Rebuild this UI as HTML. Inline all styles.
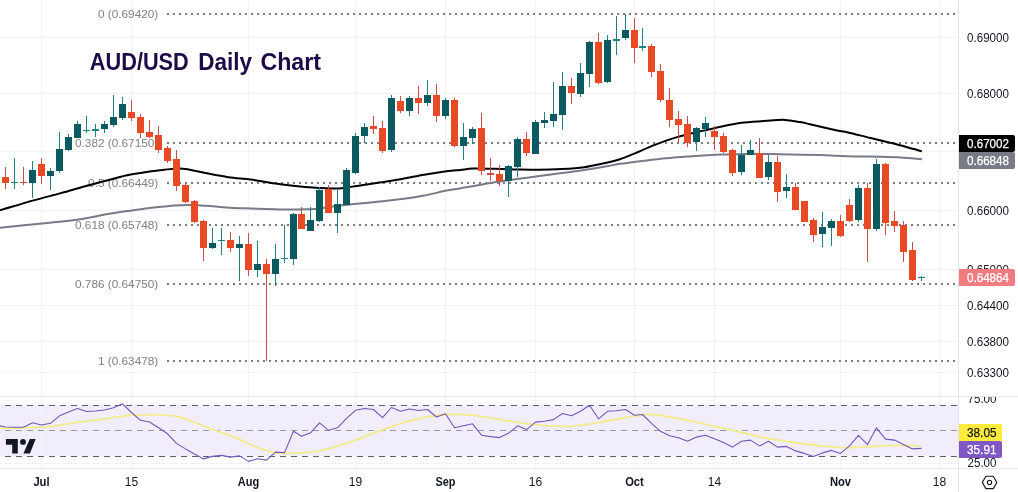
<!DOCTYPE html><html><head><meta charset="utf-8"><title>AUD/USD Daily Chart</title>
<style>html,body{margin:0;padding:0;background:#fff}body{width:1018px;height:492px;overflow:hidden}svg{display:block}text{font-family:"Liberation Sans",sans-serif}</style></head><body>
<svg width="1018" height="492" viewBox="0 0 1018 492">
<rect width="1018" height="492" fill="#fff"/>
<rect x="0" y="405" width="958" height="51" fill="#f1edfa"/>
<g shape-rendering="crispEdges" fill="#f1f2f5">
<rect x="41" y="0" width="1" height="468"/>
<rect x="131" y="0" width="1" height="468"/>
<rect x="248" y="0" width="1" height="468"/>
<rect x="355" y="0" width="1" height="468"/>
<rect x="445" y="0" width="1" height="468"/>
<rect x="535" y="0" width="1" height="468"/>
<rect x="634" y="0" width="1" height="468"/>
<rect x="714" y="0" width="1" height="468"/>
<rect x="840" y="0" width="1" height="468"/>
<rect x="939" y="0" width="1" height="468"/>
<rect x="0" y="37" width="958" height="1"/>
<rect x="0" y="93" width="958" height="1"/>
<rect x="0" y="151" width="958" height="1"/>
<rect x="0" y="210" width="958" height="1"/>
<rect x="0" y="269" width="958" height="1"/>
<rect x="0" y="305" width="958" height="1"/>
<rect x="0" y="341" width="958" height="1"/>
<rect x="0" y="372" width="958" height="1"/>
<rect x="0" y="463" width="958" height="1"/>
</g>
<g shape-rendering="crispEdges" fill="#e4e6ec">
<rect x="0" y="396" width="1018" height="1"/>
<rect x="0" y="468" width="1018" height="1"/>
<rect x="958" y="0" width="1" height="492"/>
</g>
<g font-size="11.8" fill="#808080" text-anchor="end">
<text x="158.3" y="18.3">0 (0.69420)</text>
<text x="158.3" y="147.3">0.382 (0.67150)</text>
<text x="158.3" y="187.3">0.5 (0.66449)</text>
<text x="158.3" y="229.3">0.618 (0.65748)</text>
<text x="158.3" y="288.3">0.786 (0.64750)</text>
<text x="158.3" y="365.3">1 (0.63478)</text>
</g>
<g stroke="#7c7c7c" stroke-width="2" stroke-dasharray="2 4" shape-rendering="crispEdges">
<line x1="167" y1="14" x2="957" y2="14"/>
<line x1="167" y1="143" x2="957" y2="143"/>
<line x1="167" y1="183" x2="957" y2="183"/>
<line x1="167" y1="225" x2="957" y2="225"/>
<line x1="167" y1="284" x2="957" y2="284"/>
<line x1="167" y1="361" x2="957" y2="361"/>
</g>
<path d="M0.0,227.7 C7.5,226.9 31.0,224.6 44.7,223.2 C58.4,221.8 72.4,220.4 82.4,219.0 C92.4,217.6 97.2,215.9 104.7,214.6 C112.2,213.3 119.6,212.2 127.1,211.1 C134.6,210.0 142.0,208.9 149.5,208.0 C157.0,207.1 165.2,206.2 171.9,205.7 C178.6,205.2 183.1,204.8 189.8,204.9 C196.5,205.0 205.4,205.7 212.1,206.2 C218.8,206.7 223.6,207.3 230.0,207.7 C236.4,208.1 241.7,208.2 250.7,208.5 C259.7,208.8 274.9,209.4 284.2,209.5 C293.5,209.6 300.6,209.4 306.6,209.2 C312.6,209.0 315.3,208.9 320.0,208.4 C324.7,207.9 328.5,207.0 334.7,206.2 C340.9,205.4 349.5,204.6 357.0,203.8 C364.5,203.0 372.0,202.3 379.5,201.5 C387.0,200.7 394.4,200.1 401.9,199.1 C409.3,198.1 416.8,196.9 424.2,195.5 C431.6,194.1 440.6,191.8 446.6,190.6 C452.6,189.4 455.7,189.1 460.0,188.4 C464.3,187.7 466.6,187.2 472.4,186.2 C478.2,185.2 487.2,183.5 494.7,182.3 C502.1,181.1 509.6,180.2 517.1,179.1 C524.6,178.0 532.0,177.0 539.5,176.0 C547.0,175.0 554.4,174.1 561.9,173.1 C569.4,172.1 576.8,171.2 584.2,170.1 C591.7,169.0 600.6,167.4 606.6,166.3 C612.6,165.2 615.7,164.5 620.0,163.8 C624.3,163.1 626.6,163.0 632.4,162.3 C638.2,161.6 647.2,160.3 654.7,159.5 C662.2,158.7 669.6,157.8 677.1,157.2 C684.6,156.6 692.0,156.1 699.5,155.7 C707.0,155.3 714.4,154.9 721.9,154.6 C729.4,154.3 736.8,154.0 744.2,153.9 C751.7,153.8 760.6,153.9 766.6,153.9 C772.6,153.9 771.2,154.0 780.0,154.2 C788.8,154.4 808.2,154.8 819.5,155.1 C830.8,155.4 837.7,156.0 848.0,156.3 C858.3,156.6 872.2,156.5 881.5,156.7 C890.8,156.9 897.3,157.3 904.0,157.7 C910.7,158.1 918.8,158.9 921.8,159.2" fill="none" stroke="#787b86" stroke-width="2" stroke-linejoin="round"/>
<path d="M0.0,210.3 C5.6,208.7 23.5,203.2 33.5,200.4 C43.5,197.6 51.9,195.6 60.0,193.4 C68.2,191.2 75.0,189.1 82.4,187.0 C89.9,184.9 97.2,182.9 104.7,181.0 C112.2,179.1 119.6,176.9 127.1,175.3 C134.6,173.7 142.0,172.7 149.5,171.6 C157.0,170.5 165.9,169.4 171.9,169.0 C177.9,168.6 179.7,168.2 185.3,168.9 C190.9,169.6 198.2,171.6 205.4,173.0 C212.6,174.4 220.8,176.1 228.3,177.2 C235.9,178.3 243.2,178.6 250.7,179.6 C258.1,180.6 265.6,182.2 273.0,183.3 C280.4,184.4 288.8,185.3 295.4,186.0 C302.0,186.7 305.8,187.1 312.4,187.5 C318.9,187.9 329.1,188.5 334.7,188.5 C340.3,188.5 342.3,188.0 346.0,187.6 C349.7,187.2 351.4,186.8 357.0,185.9 C362.6,185.1 372.0,183.7 379.5,182.5 C387.0,181.3 394.4,180.2 401.9,178.9 C409.3,177.6 416.8,176.0 424.2,174.7 C431.6,173.4 440.4,172.1 446.4,171.3 C452.4,170.5 455.6,170.4 460.0,170.0 C464.4,169.6 467.2,168.8 473.0,168.6 C478.8,168.4 487.3,168.7 494.7,168.8 C502.1,168.9 509.6,169.2 517.1,169.4 C524.6,169.6 532.0,169.9 539.5,169.8 C547.0,169.7 554.4,169.4 561.9,169.0 C569.4,168.6 576.8,168.2 584.2,167.2 C591.7,166.1 600.6,164.0 606.6,162.7 C612.6,161.4 615.7,160.6 620.0,159.2 C624.3,157.8 626.6,156.8 632.4,154.4 C638.2,152.0 647.2,147.8 654.7,144.9 C662.2,142.0 669.6,139.3 677.1,137.1 C684.6,134.9 692.0,133.3 699.5,131.5 C707.0,129.7 714.4,127.9 721.9,126.4 C729.4,124.9 736.8,123.5 744.2,122.6 C751.7,121.7 759.8,121.2 766.6,120.8 C773.4,120.3 779.4,119.7 785.0,119.9 C790.6,120.1 795.8,121.4 800.0,122.1 C804.2,122.8 804.2,122.9 810.0,124.2 C815.8,125.5 828.7,128.6 835.0,130.0 C841.3,131.4 842.1,131.1 848.0,132.4 C853.9,133.7 862.9,136.2 870.4,138.0 C877.9,139.8 885.3,141.4 892.7,143.3 C900.1,145.2 910.1,148.0 915.0,149.3 C919.9,150.7 920.7,151.1 921.8,151.4" fill="none" stroke="#000" stroke-width="2" stroke-linejoin="round"/>
<g shape-rendering="crispEdges">
<rect x="5" y="167" width="1" height="22" fill="#cc4a4a"/>
<rect x="2" y="177" width="7" height="6" fill="#e84a25"/>
<rect x="14" y="158" width="1" height="31" fill="#1e8286"/>
<rect x="11" y="182" width="7" height="1" fill="#1e8286"/>
<rect x="23" y="167" width="1" height="18" fill="#cc4a4a"/>
<rect x="20" y="182" width="7" height="1" fill="#cc4a4a"/>
<rect x="32" y="161" width="1" height="37" fill="#1e8286"/>
<rect x="29" y="170" width="7" height="13" fill="#0b5a5f"/>
<rect x="41" y="158" width="1" height="26" fill="#cc4a4a"/>
<rect x="38" y="164" width="7" height="12" fill="#e84a25"/>
<rect x="50" y="168" width="1" height="22" fill="#1e8286"/>
<rect x="47" y="171" width="7" height="5" fill="#0b5a5f"/>
<rect x="59" y="132" width="1" height="41" fill="#1e8286"/>
<rect x="56" y="149" width="7" height="22" fill="#0b5a5f"/>
<rect x="68" y="134" width="1" height="17" fill="#1e8286"/>
<rect x="65" y="137" width="7" height="13" fill="#0b5a5f"/>
<rect x="77" y="121" width="1" height="17" fill="#1e8286"/>
<rect x="74" y="124" width="7" height="14" fill="#0b5a5f"/>
<rect x="86" y="116" width="1" height="17" fill="#1e8286"/>
<rect x="83" y="130" width="7" height="1" fill="#1e8286"/>
<rect x="95" y="124" width="1" height="13" fill="#1e8286"/>
<rect x="92" y="129" width="7" height="2" fill="#1e8286"/>
<rect x="104" y="121" width="1" height="12" fill="#1e8286"/>
<rect x="101" y="124" width="7" height="5" fill="#0b5a5f"/>
<rect x="113" y="95" width="1" height="32" fill="#1e8286"/>
<rect x="110" y="117" width="7" height="8" fill="#0b5a5f"/>
<rect x="122" y="97" width="1" height="23" fill="#1e8286"/>
<rect x="119" y="104" width="7" height="14" fill="#0b5a5f"/>
<rect x="131" y="100" width="1" height="21" fill="#cc4a4a"/>
<rect x="128" y="112" width="7" height="6" fill="#e84a25"/>
<rect x="140" y="114" width="1" height="24" fill="#cc4a4a"/>
<rect x="137" y="117" width="7" height="16" fill="#e84a25"/>
<rect x="149" y="120" width="1" height="18" fill="#cc4a4a"/>
<rect x="146" y="132" width="7" height="5" fill="#e84a25"/>
<rect x="158" y="126" width="1" height="27" fill="#cc4a4a"/>
<rect x="155" y="135" width="7" height="15" fill="#e84a25"/>
<rect x="167" y="146" width="1" height="17" fill="#cc4a4a"/>
<rect x="164" y="148" width="7" height="13" fill="#e84a25"/>
<rect x="176" y="150" width="1" height="41" fill="#cc4a4a"/>
<rect x="173" y="159" width="7" height="27" fill="#e84a25"/>
<rect x="185" y="183" width="1" height="20" fill="#cc4a4a"/>
<rect x="182" y="185" width="7" height="17" fill="#e84a25"/>
<rect x="194" y="200" width="1" height="23" fill="#cc4a4a"/>
<rect x="191" y="201" width="7" height="21" fill="#e84a25"/>
<rect x="203" y="220" width="1" height="41" fill="#cc4a4a"/>
<rect x="200" y="221" width="7" height="27" fill="#e84a25"/>
<rect x="212" y="228" width="1" height="21" fill="#1e8286"/>
<rect x="209" y="243" width="7" height="5" fill="#0b5a5f"/>
<rect x="221" y="228" width="1" height="27" fill="#1e8286"/>
<rect x="218" y="240" width="7" height="1" fill="#1e8286"/>
<rect x="230" y="232" width="1" height="20" fill="#cc4a4a"/>
<rect x="227" y="240" width="7" height="8" fill="#e84a25"/>
<rect x="239" y="236" width="1" height="45" fill="#1e8286"/>
<rect x="236" y="244" width="7" height="4" fill="#0b5a5f"/>
<rect x="248" y="233" width="1" height="43" fill="#cc4a4a"/>
<rect x="245" y="244" width="7" height="26" fill="#e84a25"/>
<rect x="257" y="241" width="1" height="36" fill="#1e8286"/>
<rect x="254" y="264" width="7" height="6" fill="#0b5a5f"/>
<rect x="266" y="259" width="1" height="102" fill="#cc4a4a"/>
<rect x="263" y="264" width="7" height="10" fill="#e84a25"/>
<rect x="275" y="244" width="1" height="42" fill="#1e8286"/>
<rect x="272" y="259" width="7" height="15" fill="#0b5a5f"/>
<rect x="284" y="225" width="1" height="38" fill="#1e8286"/>
<rect x="281" y="258" width="7" height="1" fill="#1e8286"/>
<rect x="293" y="213" width="1" height="52" fill="#1e8286"/>
<rect x="290" y="214" width="7" height="45" fill="#0b5a5f"/>
<rect x="301" y="207" width="1" height="22" fill="#cc4a4a"/>
<rect x="298" y="214" width="7" height="15" fill="#e84a25"/>
<rect x="310" y="207" width="1" height="24" fill="#1e8286"/>
<rect x="307" y="220" width="7" height="11" fill="#0b5a5f"/>
<rect x="319" y="187" width="1" height="35" fill="#1e8286"/>
<rect x="316" y="190" width="7" height="31" fill="#0b5a5f"/>
<rect x="328" y="185" width="1" height="28" fill="#cc4a4a"/>
<rect x="325" y="189" width="7" height="24" fill="#e84a25"/>
<rect x="337" y="190" width="1" height="43" fill="#1e8286"/>
<rect x="334" y="204" width="7" height="9" fill="#0b5a5f"/>
<rect x="346" y="168" width="1" height="37" fill="#1e8286"/>
<rect x="343" y="170" width="7" height="35" fill="#0b5a5f"/>
<rect x="355" y="133" width="1" height="41" fill="#1e8286"/>
<rect x="352" y="136" width="7" height="37" fill="#0b5a5f"/>
<rect x="364" y="123" width="1" height="20" fill="#1e8286"/>
<rect x="361" y="127" width="7" height="9" fill="#0b5a5f"/>
<rect x="373" y="116" width="1" height="18" fill="#cc4a4a"/>
<rect x="370" y="126" width="7" height="3" fill="#e84a25"/>
<rect x="382" y="121" width="1" height="32" fill="#cc4a4a"/>
<rect x="379" y="128" width="7" height="23" fill="#e84a25"/>
<rect x="391" y="95" width="1" height="57" fill="#1e8286"/>
<rect x="388" y="98" width="7" height="52" fill="#0b5a5f"/>
<rect x="400" y="96" width="1" height="17" fill="#cc4a4a"/>
<rect x="397" y="101" width="7" height="10" fill="#e84a25"/>
<rect x="409" y="96" width="1" height="20" fill="#1e8286"/>
<rect x="406" y="98" width="7" height="13" fill="#0b5a5f"/>
<rect x="418" y="86" width="1" height="28" fill="#cc4a4a"/>
<rect x="415" y="98" width="7" height="5" fill="#e84a25"/>
<rect x="427" y="80" width="1" height="26" fill="#1e8286"/>
<rect x="424" y="95" width="7" height="8" fill="#0b5a5f"/>
<rect x="436" y="84" width="1" height="38" fill="#cc4a4a"/>
<rect x="433" y="95" width="7" height="21" fill="#e84a25"/>
<rect x="445" y="98" width="1" height="21" fill="#1e8286"/>
<rect x="442" y="100" width="7" height="16" fill="#0b5a5f"/>
<rect x="454" y="98" width="1" height="49" fill="#cc4a4a"/>
<rect x="451" y="100" width="7" height="46" fill="#e84a25"/>
<rect x="463" y="123" width="1" height="37" fill="#1e8286"/>
<rect x="460" y="137" width="7" height="9" fill="#0b5a5f"/>
<rect x="472" y="127" width="1" height="17" fill="#1e8286"/>
<rect x="469" y="129" width="7" height="9" fill="#0b5a5f"/>
<rect x="481" y="113" width="1" height="62" fill="#cc4a4a"/>
<rect x="478" y="128" width="7" height="43" fill="#e84a25"/>
<rect x="490" y="158" width="1" height="23" fill="#cc4a4a"/>
<rect x="487" y="173" width="7" height="2" fill="#cc4a4a"/>
<rect x="499" y="165" width="1" height="21" fill="#cc4a4a"/>
<rect x="496" y="174" width="7" height="7" fill="#e84a25"/>
<rect x="508" y="165" width="1" height="32" fill="#1e8286"/>
<rect x="505" y="166" width="7" height="15" fill="#0b5a5f"/>
<rect x="517" y="137" width="1" height="40" fill="#1e8286"/>
<rect x="514" y="139" width="7" height="28" fill="#0b5a5f"/>
<rect x="526" y="132" width="1" height="24" fill="#cc4a4a"/>
<rect x="523" y="139" width="7" height="14" fill="#e84a25"/>
<rect x="535" y="120" width="1" height="34" fill="#1e8286"/>
<rect x="532" y="122" width="7" height="32" fill="#0b5a5f"/>
<rect x="544" y="112" width="1" height="16" fill="#1e8286"/>
<rect x="541" y="120" width="7" height="3" fill="#0b5a5f"/>
<rect x="553" y="82" width="1" height="45" fill="#1e8286"/>
<rect x="550" y="114" width="7" height="7" fill="#0b5a5f"/>
<rect x="562" y="72" width="1" height="58" fill="#1e8286"/>
<rect x="559" y="86" width="7" height="29" fill="#0b5a5f"/>
<rect x="571" y="78" width="1" height="26" fill="#cc4a4a"/>
<rect x="568" y="86" width="7" height="7" fill="#e84a25"/>
<rect x="580" y="63" width="1" height="34" fill="#1e8286"/>
<rect x="577" y="73" width="7" height="21" fill="#0b5a5f"/>
<rect x="589" y="41" width="1" height="46" fill="#1e8286"/>
<rect x="586" y="42" width="7" height="32" fill="#0b5a5f"/>
<rect x="598" y="33" width="1" height="51" fill="#cc4a4a"/>
<rect x="595" y="42" width="7" height="41" fill="#e84a25"/>
<rect x="607" y="35" width="1" height="48" fill="#1e8286"/>
<rect x="604" y="40" width="7" height="42" fill="#0b5a5f"/>
<rect x="616" y="16" width="1" height="39" fill="#1e8286"/>
<rect x="613" y="39" width="7" height="2" fill="#1e8286"/>
<rect x="625" y="14" width="1" height="26" fill="#1e8286"/>
<rect x="622" y="30" width="7" height="8" fill="#0b5a5f"/>
<rect x="634" y="18" width="1" height="45" fill="#cc4a4a"/>
<rect x="631" y="30" width="7" height="18" fill="#e84a25"/>
<rect x="642" y="28" width="1" height="23" fill="#1e8286"/>
<rect x="639" y="46" width="7" height="2" fill="#1e8286"/>
<rect x="651" y="44" width="1" height="33" fill="#cc4a4a"/>
<rect x="648" y="46" width="7" height="26" fill="#e84a25"/>
<rect x="660" y="64" width="1" height="38" fill="#cc4a4a"/>
<rect x="657" y="71" width="7" height="29" fill="#e84a25"/>
<rect x="669" y="88" width="1" height="39" fill="#cc4a4a"/>
<rect x="666" y="100" width="7" height="20" fill="#e84a25"/>
<rect x="678" y="111" width="1" height="32" fill="#cc4a4a"/>
<rect x="675" y="119" width="7" height="6" fill="#e84a25"/>
<rect x="687" y="116" width="1" height="31" fill="#cc4a4a"/>
<rect x="684" y="124" width="7" height="19" fill="#e84a25"/>
<rect x="696" y="127" width="1" height="24" fill="#1e8286"/>
<rect x="693" y="128" width="7" height="14" fill="#0b5a5f"/>
<rect x="705" y="117" width="1" height="20" fill="#1e8286"/>
<rect x="702" y="123" width="7" height="6" fill="#0b5a5f"/>
<rect x="714" y="126" width="1" height="24" fill="#cc4a4a"/>
<rect x="711" y="131" width="7" height="6" fill="#e84a25"/>
<rect x="723" y="133" width="1" height="20" fill="#cc4a4a"/>
<rect x="720" y="136" width="7" height="16" fill="#e84a25"/>
<rect x="732" y="149" width="1" height="27" fill="#cc4a4a"/>
<rect x="729" y="150" width="7" height="23" fill="#e84a25"/>
<rect x="741" y="145" width="1" height="30" fill="#1e8286"/>
<rect x="738" y="155" width="7" height="17" fill="#0b5a5f"/>
<rect x="750" y="140" width="1" height="15" fill="#1e8286"/>
<rect x="747" y="150" width="7" height="5" fill="#0b5a5f"/>
<rect x="759" y="138" width="1" height="40" fill="#cc4a4a"/>
<rect x="756" y="153" width="7" height="25" fill="#e84a25"/>
<rect x="768" y="155" width="1" height="25" fill="#1e8286"/>
<rect x="765" y="162" width="7" height="15" fill="#0b5a5f"/>
<rect x="777" y="156" width="1" height="46" fill="#cc4a4a"/>
<rect x="774" y="162" width="7" height="30" fill="#e84a25"/>
<rect x="786" y="174" width="1" height="24" fill="#1e8286"/>
<rect x="783" y="187" width="7" height="4" fill="#0b5a5f"/>
<rect x="795" y="183" width="1" height="27" fill="#cc4a4a"/>
<rect x="792" y="187" width="7" height="23" fill="#e84a25"/>
<rect x="804" y="201" width="1" height="21" fill="#cc4a4a"/>
<rect x="801" y="201" width="7" height="21" fill="#e84a25"/>
<rect x="813" y="218" width="1" height="24" fill="#cc4a4a"/>
<rect x="810" y="220" width="7" height="15" fill="#e84a25"/>
<rect x="822" y="212" width="1" height="35" fill="#1e8286"/>
<rect x="819" y="227" width="7" height="7" fill="#0b5a5f"/>
<rect x="831" y="219" width="1" height="27" fill="#1e8286"/>
<rect x="828" y="221" width="7" height="7" fill="#0b5a5f"/>
<rect x="840" y="215" width="1" height="22" fill="#cc4a4a"/>
<rect x="837" y="221" width="7" height="15" fill="#e84a25"/>
<rect x="849" y="199" width="1" height="23" fill="#cc4a4a"/>
<rect x="846" y="205" width="7" height="16" fill="#e84a25"/>
<rect x="858" y="185" width="1" height="37" fill="#1e8286"/>
<rect x="855" y="188" width="7" height="32" fill="#0b5a5f"/>
<rect x="867" y="183" width="1" height="79" fill="#cc4a4a"/>
<rect x="864" y="188" width="7" height="41" fill="#e84a25"/>
<rect x="876" y="159" width="1" height="72" fill="#1e8286"/>
<rect x="873" y="164" width="7" height="65" fill="#0b5a5f"/>
<rect x="885" y="163" width="1" height="72" fill="#cc4a4a"/>
<rect x="882" y="164" width="7" height="59" fill="#e84a25"/>
<rect x="894" y="211" width="1" height="21" fill="#cc4a4a"/>
<rect x="891" y="221" width="7" height="5" fill="#e84a25"/>
<rect x="903" y="221" width="1" height="41" fill="#cc4a4a"/>
<rect x="900" y="225" width="7" height="27" fill="#e84a25"/>
<rect x="912" y="242" width="1" height="39" fill="#cc4a4a"/>
<rect x="909" y="250" width="7" height="30" fill="#e84a25"/>
<rect x="921" y="276" width="1" height="5" fill="#1e8286"/>
<rect x="918" y="277" width="7" height="1" fill="#1e8286"/>
</g>
<text y="69.5" font-size="23.4" font-weight="bold" fill="#1d0a46"><tspan x="89.8" textLength="99" lengthAdjust="spacingAndGlyphs">AUD/USD</tspan> <tspan x="198.2" textLength="53.8" lengthAdjust="spacingAndGlyphs">Daily</tspan> <tspan x="260.4" textLength="60.6" lengthAdjust="spacingAndGlyphs">Chart</tspan></text>
<g shape-rendering="crispEdges" stroke-width="1">
<line x1="5" y1="405.5" x2="958" y2="405.5" stroke="#5d606b" stroke-dasharray="6 5"/>
<line x1="5" y1="430.5" x2="958" y2="430.5" stroke="#9598a1" stroke-dasharray="6 5"/>
<line x1="5" y1="456.5" x2="958" y2="456.5" stroke="#5d606b" stroke-dasharray="6 5"/>
</g>
<path d="M0.0,428.3 C4.2,428.2 16.7,428.1 25.0,427.8 C33.3,427.5 41.7,427.5 50.0,426.6 C58.3,425.7 66.7,423.8 75.0,422.6 C83.3,421.4 91.7,420.7 100.0,419.6 C108.3,418.5 118.3,416.6 125.0,415.8 C131.7,415.0 134.2,415.0 140.0,414.8 C145.8,414.6 153.3,414.4 160.0,414.8 C166.7,415.2 173.3,415.4 180.0,417.0 C186.7,418.6 193.3,422.1 200.0,424.6 C206.7,427.1 213.3,429.5 220.0,432.0 C226.7,434.5 234.2,437.2 240.0,439.6 C245.8,442.0 249.6,444.4 255.0,446.5 C260.4,448.6 266.8,451.0 272.6,452.1 C278.4,453.2 283.8,453.4 290.0,453.4 C296.2,453.4 303.3,452.9 310.0,452.1 C316.7,451.3 323.3,450.1 330.0,448.4 C336.7,446.7 343.3,444.4 350.0,442.1 C356.7,439.8 363.3,437.1 370.0,434.6 C376.7,432.1 383.3,429.4 390.0,427.1 C396.7,424.8 403.3,422.6 410.0,420.8 C416.7,419.0 423.3,417.4 430.0,416.3 C436.7,415.2 443.6,414.7 450.4,414.5 C457.1,414.3 465.6,414.7 470.5,415.0 C475.4,415.3 475.1,415.5 480.0,416.3 C484.9,417.1 493.3,418.5 500.0,419.6 C506.7,420.7 513.3,421.9 520.0,422.8 C526.7,423.7 533.3,424.5 540.0,425.1 C546.7,425.7 554.2,426.2 560.0,426.3 C565.8,426.4 569.2,426.3 575.0,425.8 C580.8,425.3 588.3,424.3 595.0,423.3 C601.7,422.3 608.3,420.9 615.0,419.6 C621.7,418.4 628.7,416.7 635.0,415.8 C641.3,414.9 647.2,414.3 653.0,414.5 C658.8,414.7 663.8,415.9 670.0,417.0 C676.2,418.1 683.3,419.4 690.0,420.8 C696.7,422.2 702.5,423.6 710.0,425.3 C717.5,427.0 727.5,429.1 735.0,430.8 C742.5,432.6 748.3,434.3 755.0,435.8 C761.7,437.3 768.3,438.5 775.0,439.6 C781.7,440.7 788.3,441.7 795.0,442.6 C801.7,443.5 808.3,444.4 815.0,445.1 C821.7,445.9 829.2,446.7 835.0,447.1 C840.8,447.5 844.2,447.7 850.0,447.6 C855.8,447.5 862.5,447.0 870.0,446.6 C877.5,446.2 886.5,445.5 895.0,445.4 C903.5,445.3 916.5,445.8 920.8,445.9" fill="none" stroke="#f3ec8c" stroke-width="1.8"/>
<path d="M-3.5,425.2 L5.5,427.0 L14.5,427.3 L23.5,427.3 L32.5,422.8 L41.5,425.0 L50.5,423.3 L59.5,415.8 L68.5,412.0 L77.5,408.5 L86.5,411.5 L95.5,411.0 L104.5,410.0 L113.5,407.8 L122.5,403.8 L131.5,412.5 L140.5,420.3 L149.5,422.0 L158.5,427.8 L167.5,433.8 L176.5,443.4 L185.5,448.9 L194.5,453.9 L203.5,458.9 L212.5,456.4 L221.5,455.4 L230.5,457.1 L239.5,455.9 L248.5,461.4 L257.5,458.8 L266.5,460.1 L275.5,452.1 L284.5,452.6 L293.5,431.3 L301.5,436.3 L310.5,432.8 L319.5,422.8 L328.5,430.3 L337.5,427.8 L346.5,418.3 L355.5,410.3 L364.5,408.5 L373.5,409.5 L382.5,417.6 L391.5,407.5 L400.5,411.3 L409.5,409.0 L418.5,410.5 L427.5,409.5 L436.5,417.0 L445.5,413.8 L454.5,427.8 L463.5,425.8 L472.5,423.8 L481.5,435.2 L490.5,436.6 L499.5,437.6 L508.5,433.3 L517.5,425.8 L526.5,429.6 L535.5,422.1 L544.5,421.3 L553.5,419.6 L562.5,413.5 L571.5,415.8 L580.5,411.3 L589.5,405.3 L598.5,418.8 L607.5,411.3 L616.5,410.8 L625.5,409.5 L634.5,415.3 L642.5,414.5 L651.5,423.3 L660.5,431.3 L669.5,435.8 L678.5,437.8 L687.5,441.3 L696.5,437.1 L705.5,435.3 L714.5,438.8 L723.5,442.5 L732.5,447.1 L741.5,441.3 L750.5,440.1 L759.5,445.9 L768.5,441.3 L777.5,447.1 L786.5,446.4 L795.5,450.9 L804.5,453.4 L813.5,456.4 L822.5,452.9 L831.5,450.4 L840.5,453.4 L849.5,445.9 L858.5,435.3 L867.5,444.6 L876.5,427.8 L885.5,439.1 L894.5,440.1 L903.5,444.6 L912.5,448.9 L921.5,448.4" fill="none" stroke="#7457b8" stroke-width="1.1" stroke-linejoin="round"/>
<g fill="#131722"><path d="M5.9,439.1H17.8V453.6H12.2V444.8H5.9Z"/><circle cx="23" cy="441.9" r="2.9"/><path d="M29.8,439.1H35.7L29.9,453.6H23.4Z"/></g>
<g font-size="12.4" fill="#131722">
<text x="967" y="41.8" textLength="42" lengthAdjust="spacingAndGlyphs">0.69000</text>
<text x="967" y="98.0" textLength="42" lengthAdjust="spacingAndGlyphs">0.68000</text>
<text x="967" y="214.60000000000002" textLength="42" lengthAdjust="spacingAndGlyphs">0.66000</text>
<text x="967" y="273.90000000000003" textLength="42" lengthAdjust="spacingAndGlyphs">0.65000</text>
<text x="967" y="309.5" textLength="42" lengthAdjust="spacingAndGlyphs">0.64400</text>
<text x="967" y="345.90000000000003" textLength="42" lengthAdjust="spacingAndGlyphs">0.63800</text>
<text x="967" y="376.90000000000003" textLength="42" lengthAdjust="spacingAndGlyphs">0.63300</text>
</g>
<clipPath id="rp"><rect x="958" y="397" width="60" height="71"/></clipPath>
<g font-size="12.4" fill="#131722" clip-path="url(#rp)">
<text x="967.5" y="402.8" textLength="29" lengthAdjust="spacingAndGlyphs">75.00</text>
<text x="967.5" y="466.7" textLength="29" lengthAdjust="spacingAndGlyphs">25.00</text>
</g>
<path d="M959,135H1013a2,2 0 0 1 2,2V150a2,2 0 0 1 -2,2H959Z" fill="#000"/>
<text x="967" y="147.8" font-size="12.6" fill="#fff" stroke="#fff" stroke-width="0.25" textLength="42" lengthAdjust="spacingAndGlyphs">0.67002</text>
<path d="M959,152H1013a2,2 0 0 1 2,2V167a2,2 0 0 1 -2,2H959Z" fill="#787b86"/>
<text x="967" y="164.8" font-size="12.6" fill="#fff" stroke="#fff" stroke-width="0.25" textLength="42" lengthAdjust="spacingAndGlyphs">0.66848</text>
<path d="M959,269H1013a2,2 0 0 1 2,2V284a2,2 0 0 1 -2,2H959Z" fill="#f27b80"/>
<text x="967" y="281.8" font-size="12.6" fill="#fff" stroke="#fff" stroke-width="0.25" textLength="42" lengthAdjust="spacingAndGlyphs">0.64864</text>
<path d="M959,424H1000a2,2 0 0 1 2,2V441H959Z" fill="#ffeb3b"/>
<text x="967" y="437.2" font-size="12.6" fill="#131722" stroke="#131722" stroke-width="0.25" textLength="29.5" lengthAdjust="spacingAndGlyphs">38.05</text>
<path d="M959,441H1000a2,2 0 0 1 2,2V456a2,2 0 0 1 -2,2H959Z" fill="#7e57c2"/>
<text x="967" y="454.2" font-size="12.6" fill="#fff" stroke="#fff" stroke-width="0.25" textLength="29.5" lengthAdjust="spacingAndGlyphs">35.91</text>
<g font-size="12" fill="#131722" text-anchor="middle">
<text x="41.5" y="486" font-weight="bold" textLength="16.2" lengthAdjust="spacingAndGlyphs">Jul</text>
<text x="131.5" y="486">15</text>
<text x="248.5" y="486" font-weight="bold" textLength="21.4" lengthAdjust="spacingAndGlyphs">Aug</text>
<text x="355.5" y="486">19</text>
<text x="445.5" y="486" font-weight="bold" textLength="20" lengthAdjust="spacingAndGlyphs">Sep</text>
<text x="535.5" y="486">16</text>
<text x="634.5" y="486" font-weight="bold" textLength="18.6" lengthAdjust="spacingAndGlyphs">Oct</text>
<text x="714.5" y="486">14</text>
<text x="840.5" y="486" font-weight="bold" textLength="21.2" lengthAdjust="spacingAndGlyphs">Nov</text>
<text x="939.5" y="486">18</text>
</g>
<g fill="none" stroke="#131722" stroke-width="1.1"><path d="M982.3,482.4L985.9,476.3H993.3L996.8,482.4L993.3,488.6H985.9Z"/><circle cx="989.5" cy="482.4" r="2.1"/></g>
</svg></body></html>
